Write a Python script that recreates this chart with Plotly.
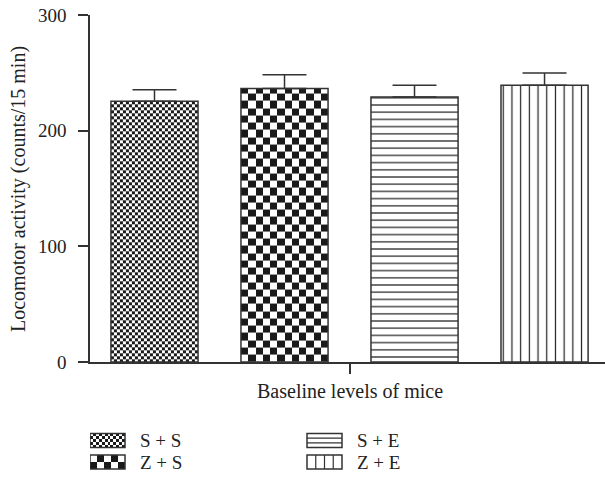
import numpy as np
import plotly.graph_objects as go

# ---------------- data ----------------
groups = ["S + S", "Z + S", "S + E", "Z + E"]
means = [225.4, 236.4, 229.2, 239.2]
err_upper = [10.0, 12.0, 10.0, 10.6]
y_ticks = [0, 100, 200, 300]
x_title = "Baseline levels of mice"
y_title = "Locomotor activity (counts/15 min)"

# ---------------- layout constants ----------------
W, H = 605, 481
ML, MR, MT, MB = 90, 0, 15, 0
PW, PH = W - ML - MR, H - MT - MB
PLOT_BOTTOM = 362                       # pixel of y=0
Y_DOM0 = (H - PLOT_BOTTOM) / PH
X_RANGE = [0.504, 4.465]
Y_RANGE = [0, 300]
BAR_W = 0.67
FONT = "Liberation Serif"
FS = 19
FS_TITLE = 20
INK = "#222222"
LINE = "#333333"

px_per_x = PW / (X_RANGE[1] - X_RANGE[0])
px_per_y = (PLOT_BOTTOM - MT) / (Y_RANGE[1] - Y_RANGE[0])

xpos = list(range(1, len(groups) + 1))

fig = go.Figure()

CHECKER_SCALE = [[0, "white"], [0.5, "white"], [0.5, "#1a1a1a"], [1, "#1a1a1a"]]


def checker(x_edges, y_edges, xaxis="x", yaxis="y"):
    nr, nc = len(y_edges) - 1, len(x_edges) - 1
    z = [[(i + j) % 2 for j in range(nc)] for i in range(nr)]
    fig.add_trace(go.Heatmap(x=list(x_edges), y=list(y_edges), z=z, zmin=0, zmax=1,
                             colorscale=CHECKER_SCALE, showscale=False, hoverinfo="skip",
                             xaxis=xaxis, yaxis=yaxis, zsmooth=False))


def bar_checker(xc, top, ncols, cell_px):
    x_edges = np.linspace(xc - BAR_W / 2, xc + BAR_W / 2, ncols + 1)
    cy = cell_px / px_per_y
    y_edges = list(np.arange(0, top, cy))
    if top - y_edges[-1] > 1e-6:
        y_edges.append(top)
    checker(x_edges, y_edges)


# checkerboard fills for the first two bars
bar_checker(xpos[0], means[0], 29, 3.0)
bar_checker(xpos[1], means[1], 12, 87 / 12)

patterns = [None, None,
            dict(shape="-", size=7.2, solidity=0.17, fgcolor="#222222", bgcolor="white", fillmode="replace"),
            dict(shape="|", size=8.7, solidity=0.14, fgcolor="#222222", bgcolor="white", fillmode="replace")]
fills = ["rgba(0,0,0,0)", "rgba(0,0,0,0)", "white", "white"]

for i in range(len(groups)):
    marker = dict(color=fills[i], line=dict(color=LINE, width=1.5))
    if patterns[i] is not None:
        marker["pattern"] = patterns[i]
    fig.add_trace(go.Bar(
        x=[xpos[i]], y=[means[i]], width=BAR_W, name=groups[i],
        marker=marker,
        error_y=dict(type="data", symmetric=False, array=[err_upper[i]],
                     arrayminus=[0], color=LINE, thickness=1.5, width=22),
        showlegend=False, hoverinfo="skip",
    ))

# ---------------- legend (custom) ----------------
LEG_TOP = 425
leg_rows = [440.5, 462]
leg_cols = [90, 307]
PATCH_W, PATCH_H = 35, 14
leg_pos = [(leg_cols[0], leg_rows[0]), (leg_cols[0], leg_rows[1]),
           (leg_cols[1], leg_rows[0]), (leg_cols[1], leg_rows[1])]

x0, yc = leg_pos[0]
checker(np.linspace(x0, x0 + PATCH_W, 13), np.linspace(yc - PATCH_H / 2, yc + PATCH_H / 2, 6), "x2", "y2")
x0, yc = leg_pos[1]
checker(np.linspace(x0, x0 + PATCH_W, 6), np.linspace(yc - PATCH_H / 2, yc + PATCH_H / 2, 3), "x2", "y2")

shapes = []
for (x0, yc) in leg_pos:
    shapes.append(dict(type="rect", xref="x2", yref="y2", x0=x0, x1=x0 + PATCH_W,
                       y0=yc - PATCH_H / 2, y1=yc + PATCH_H / 2,
                       line=dict(color=LINE, width=1.5)))
x0, yc = leg_pos[2]
for k in (1, 2):
    yy = yc - PATCH_H / 2 + k * PATCH_H / 3
    shapes.append(dict(type="line", xref="x2", yref="y2", x0=x0, x1=x0 + PATCH_W,
                       y0=yy, y1=yy, line=dict(color=LINE, width=1.2)))
x0, yc = leg_pos[3]
for k in (1, 2, 3):
    xx = x0 + k * PATCH_W / 4
    shapes.append(dict(type="line", xref="x2", yref="y2", x0=xx, x1=xx,
                       y0=yc - PATCH_H / 2, y1=yc + PATCH_H / 2, line=dict(color=LINE, width=1.2)))

annotations = []
for name, (x0, yc) in zip(groups, leg_pos):
    annotations.append(dict(text=name, xref="x2", yref="y2", x=x0 + PATCH_W + 13, y=yc,
                            xanchor="left", yanchor="middle", showarrow=False,
                            font=dict(family=FONT, size=FS, color=INK)))

annotations.append(dict(text=x_title, xref="paper", yref="paper",
                        x=(350 - ML) / PW, y=(H - 391) / PH,
                        xanchor="center", yanchor="middle", showarrow=False,
                        font=dict(family=FONT, size=FS_TITLE, color=INK)))
annotations.append(dict(text=y_title, xref="paper", yref="paper",
                        x=(18 - ML) / PW, y=(H - 189) / PH, textangle=-90,
                        xanchor="center", yanchor="middle", showarrow=False,
                        font=dict(family=FONT, size=FS_TITLE, color=INK)))

fig.update_layout(
    width=W, height=H, autosize=False,
    margin=dict(l=ML, r=MR, t=MT, b=MB, pad=0, autoexpand=False),
    paper_bgcolor="white", plot_bgcolor="white",
    showlegend=False, barmode="overlay",
    xaxis=dict(domain=[0, 1], range=X_RANGE, showgrid=False, zeroline=False,
               showline=True, linecolor=LINE, linewidth=1.5, automargin=False,
               tickvals=[2.5], ticks="outside", ticklen=10, tickwidth=1.5,
               tickcolor=LINE, showticklabels=False, anchor="y"),
    yaxis=dict(domain=[Y_DOM0, 1], range=Y_RANGE, showgrid=False, zeroline=False,
               showline=True, linecolor=LINE, linewidth=1.5, automargin=False,
               tickvals=y_ticks, ticks="outside", ticklen=10, tickwidth=1.5,
               tickcolor=LINE, ticklabelstandoff=8,
               tickfont=dict(family=FONT, size=FS, color=INK), anchor="x"),
    xaxis2=dict(domain=[0, 1], range=[ML, W - MR], visible=False, anchor="y2", automargin=False),
    yaxis2=dict(domain=[0, (H - LEG_TOP) / PH], range=[H, LEG_TOP], visible=False,
                anchor="x2", automargin=False),
    shapes=shapes,
    annotations=annotations,
)

fig.write_html("out.html")
